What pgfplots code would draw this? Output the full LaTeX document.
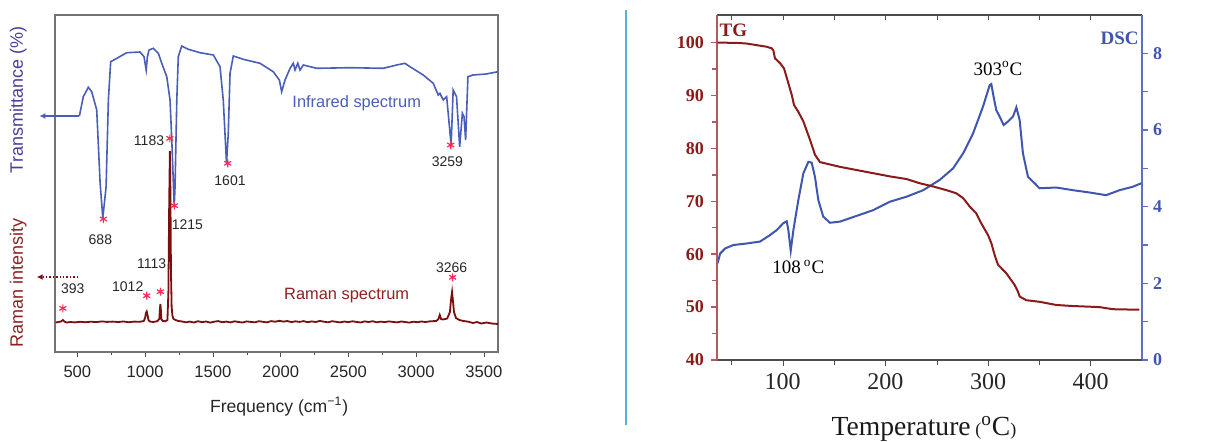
\documentclass[border=0pt]{standalone}
\usepackage{fontspec}
\setmainfont{Liberation Sans}
\newfontfamily\timesfont{Liberation Serif}
\usepackage{pgfplots}
\pgfplotsset{compat=1.18}
\usetikzlibrary{arrows.meta}
\definecolor{irblue}{HTML}{4A5DB8}
\definecolor{ramred}{HTML}{7A0F12}
\definecolor{transcol}{HTML}{4A3F9A}
\definecolor{ramlab}{HTML}{8B2323}
\definecolor{starred}{HTML}{FF2A55}
\definecolor{tgred}{HTML}{8B1A1A}
\definecolor{tgaxis}{HTML}{B05A5A}
\definecolor{dscblue}{HTML}{3F56B0}
\definecolor{dscaxis}{HTML}{5F6FC8}
\definecolor{divider}{HTML}{5AAEE0}
\begin{document}
\begin{tikzpicture}[x=1pt,y=1pt]
\path (0,0) rectangle (604,220.5);
% ================= LEFT PANEL =================
\begin{axis}[at={(27.5pt,44.5pt)}, anchor=south west, scale only axis,
  width=221.5pt, height=168.5pt,
  xmin=335, xmax=3605, ymin=0, ymax=337, clip=false,
  axis line style={black!55, line width=0.6pt},
  xtick={500,1000,...,3500}, minor xtick={750,1250,...,3250}, ytick=\empty,
  xtick pos=bottom, tick align=outside, major tick length=2.5pt, minor tick length=1.5pt,
  tick style={black!70},
  /pgf/number format/assume math mode=true,
  /pgf/number format/1000 sep={},
  xticklabel style={font=\fontsize{8.3}{9}\selectfont, text=black!85, yshift=-1pt},
  ]
% Infrared spectrum
\addplot[irblue, line width=0.8pt, mark=none] coordinates {
(515,236) (544,255.3) (581,264.7) (606,260.3) (643,242) (668,169) (688,134) (712,165)
(729,252) (746,290.3) (778,292.7) (865,299.3) (963,300) (992,295.3) (1008,282) (1017,295.3)
(1029,302) (1061,303.7) (1098,298.7) (1123,288.7) (1160,275.3) (1184,252) (1197,212)
(1215,145.3) (1221,165.3) (1234,252) (1245,295.3) (1270,306) (1319,302.7) (1405,299.3)
(1504,297) (1553,285.3) (1577,252) (1601,188.7) (1614,218.7) (1627,278.7) (1651,296)
(1725,292.7) (1848,288.7) (1946,280.3) (1991,272) (2008,260.3) (2033,272) (2070,283.7)
(2094,288.7) (2107,282) (2127,288.7) (2144,282) (2168,287) (2267,283.7) (2513,284.3)
(2758,283.7) (2857,287) (2918,288.7) (2955,285.3) (3053,277) (3127,268.7) (3164,257)
(3176,258.7) (3201,252) (3226,255.3) (3259,207) (3274,262) (3299,255.3) (3322,205.3)
(3342,238.7) (3354,235.3) (3366,212) (3383,275.3) (3420,277) (3518,278) (3605,280.3)
};
% Raman spectrum
\addplot[ramred, line width=0.9pt, mark=none] coordinates {
(340,29.5) (360,30) (380,30.5) (393,32) (405,30.5) (420,29.5) (450,30) (480,29.6) (520,30.2)
(560,29.8) (600,30.3) (640,29.9) (680,30.6) (720,30.1) (760,30.4) (800,30) (840,30.5)
(880,29.8) (920,30.4) (960,30.2) (990,31) (1000,34) (1006,39) (1012,40.5) (1018,37)
(1025,32) (1035,30.5) (1060,30) (1090,30.8) (1105,33) (1110,44) (1113,48) (1116,43)
(1120,33) (1130,31) (1150,30.8) (1165,32) (1172,60) (1178,150) (1183,201) (1187,160)
(1191,80) (1196,45) (1202,36) (1210,33) (1225,32) (1245,31)
(1270,30.6) (1300,29.7) (1330,30.4) (1360,29.5) (1390,30.8) (1420,29.9) (1450,30.5)
(1480,29.4) (1510,30.3) (1540,30.9) (1570,29.8) (1600,30.4) (1630,29.6) (1660,30.7)
(1690,30.0) (1720,29.5) (1750,30.6) (1780,30.1) (1810,29.7) (1840,30.8) (1870,30.2)
(1900,29.6) (1930,30.9) (1960,30.3) (1990,31.2) (2020,30.4) (2050,31.0) (2080,29.9)
(2110,30.7) (2140,30.1) (2170,30.9) (2200,29.8) (2230,30.6) (2260,30.0) (2290,31.1)
(2320,30.3) (2350,29.7) (2380,30.8) (2410,30.2) (2440,29.6) (2470,30.5) (2500,29.9)
(2530,30.7) (2560,30.1) (2590,29.5) (2620,30.6) (2650,30.0) (2680,30.8) (2710,29.7)
(2740,30.4) (2770,29.9) (2800,30.6) (2830,30.1) (2860,29.6) (2890,30.5) (2920,30.0)
(2950,29.4) (2980,30.3) (3010,29.8) (3040,30.5) (3070,30.0) (3100,30.6) (3130,30.9)
(3150,31) (3165,33) (3175,37) (3185,33) (3200,32.5) (3230,33.5) (3250,40) (3258,52)
(3266,60) (3272,52) (3280,40) (3295,34) (3320,32) (3350,31) (3380,30.5) (3420,29)
(3450,30) (3480,28.5) (3520,29.5) (3560,28.5) (3605,28)
};
% peak markers
\addplot[only marks, mark=asterisk, mark size=2pt, starred, line width=0.6pt] coordinates {
(393,43.7) (1012,56.3) (1113,60.3) (1183,213.7) (1216,146.3) (692,133) (1610,188.7)
(3256,207) (3270,74.7)
};
% arrows pointing to y-axes
\draw[irblue, line width=0.8pt, -{Latex[length=3pt,width=3pt]}] (axis cs:515,236) -- (axis cs:220,236);
\draw[ramred, line width=0.7pt, densely dotted, -{Latex[length=3pt,width=3pt]}] (axis cs:505,75) -- (axis cs:200,75);
% peak labels
\begin{scope}[every node/.style={font=\fontsize{7}{8}\selectfont, text=black!85}]
\node at (axis cs:670,112) {688};
\node at (axis cs:1312,127) {1215};
\node at (axis cs:1627,171) {1601};
\node at (axis cs:3231,190.3) {3259};
\node at (axis cs:1029,211.3) {1183};
\node at (axis cs:1049,88.7) {1113};
\node at (axis cs:872,65.3) {1012};
\node at (axis cs:466,63.7) {393};
\node at (axis cs:3263,84.7) {3266};
\end{scope}
\node[font=\fontsize{8.2}{9}\selectfont, text=irblue] at (axis cs:2562,248.7) {Infrared spectrum};
\node[font=\fontsize{8.2}{9}\selectfont, text=ramlab] at (axis cs:2488,56) {Raman spectrum};
% axis labels
\node[rotate=90, text=transcol, font=\fontsize{9}{10}\selectfont] at (rel axis cs:-0.083,0.748) {Transmittance (\%)};
\node[rotate=90, text=ramlab, font=\fontsize{9}{10}\selectfont] at (rel axis cs:-0.083,0.206) {Raman intensity};
\node[font=\fontsize{8.8}{10}\selectfont, text=black!85] at (rel axis cs:0.506,-0.162) {Frequency (cm\textsuperscript{−1})};
\end{axis}
% divider
\draw[divider, line width=0.6pt] (313,8) -- (313,215.5);
% ================= RIGHT PANEL =================
% top spine with inward ticks
\begin{axis}[at={(358.5pt,40.5pt)}, anchor=south west, scale only axis,
  width=212.5pt, height=172.5pt,
  xmin=36, xmax=450, ymin=0, ymax=1,
  axis x line*=top, axis y line=none,
  x axis line style={black!70, line width=0.6pt},
  xtick={100,200,300,400}, minor xtick={50,150,250,350},
  xticklabels={}, tick align=inside, major tick length=2.5pt, minor tick length=2.5pt,
  tick style={black!70},
  ]
\addplot[draw=none] coordinates {(100,0.5)};
\end{axis}
% DSC axis (right)
\begin{axis}[at={(358.5pt,40.5pt)}, anchor=south west, scale only axis,
  width=212.5pt, height=172.5pt,
  xmin=36, xmax=450, ymin=0, ymax=9, clip=false,
  axis x line=none, axis y line*=right,
  y axis line style={dscaxis, line width=0.9pt},
  ytick={0,2,4,6,8}, minor ytick={1,3,5,7},
  tick align=outside, major tick length=3pt, minor tick length=3pt,
  ytick style={dscaxis, line width=0.7pt},
  /pgf/number format/assume math mode=true,
  yticklabel style={font=\timesfont\bfseries\fontsize{9}{10}\selectfont, text=dscblue, xshift=-1pt},
  ]
\addplot[dscblue, line width=1pt, mark=none] coordinates {
(36.5,2.52) (39.1,2.78) (43.9,2.91) (52,3.0) (65,3.04) (77.9,3.09) (87.7,3.26) (94.2,3.39)
(100.6,3.57) (103.9,3.62) (105.5,3.39) (107.8,2.85) (110.4,3.39) (115.2,4.17) (120.1,4.87)
(125,5.17) (128.2,5.15) (131.4,4.78) (134.7,4.17) (139.5,3.74) (146,3.58) (155.8,3.61)
(172,3.76) (188.2,3.91) (204.4,4.13) (220.6,4.26) (236.8,4.43) (253,4.7) (266,5.0)
(275.7,5.39) (285.4,5.91) (295.1,6.61) (301.6,7.17) (303.2,7.2) (305.4,6.87) (308,6.52)
(311.3,6.35) (315.2,6.13) (319.4,6.22) (324.3,6.35) (327.6,6.59) (330.8,6.26) (334,5.39)
(338.9,4.78) (345.4,4.61) (350.2,4.48) (366.5,4.5) (382.7,4.43) (398.9,4.37) (415.1,4.3)
(428.1,4.43) (441.1,4.52) (449.2,4.61)
};
\node[font=\timesfont\fontsize{9.5}{10}\selectfont] at (axis cs:115.2,2.43) {108\,\textsuperscript{o}C};
\node[font=\timesfont\fontsize{9.5}{10}\selectfont] at (axis cs:309.7,7.61) {303\textsuperscript{o}C};
\node[font=\timesfont\bfseries\fontsize{9.5}{10}\selectfont, text=dscblue] at (axis cs:428.1,8.39) {DSC};
\end{axis}
% TG axis (left) + bottom
\begin{axis}[at={(358.5pt,40.5pt)}, anchor=south west, scale only axis,
  width=212.5pt, height=172.5pt,
  xmin=36, xmax=450, ymin=40, ymax=105.2, clip=false,
  axis x line*=bottom, axis y line*=left,
  x axis line style={black!70, line width=0.6pt},
  y axis line style={tgaxis, line width=0.9pt},
  xtick={100,200,300,400}, minor xtick={50,150,250,350},
  ytick={40,50,...,100}, minor ytick={45,55,...,95},
  tick align=outside, major tick length=3pt, minor tick length=2.5pt,
  xtick style={black!70},
  ytick style={tgaxis, line width=0.7pt},
  /pgf/number format/assume math mode=true,
  xticklabel style={font=\timesfont\fontsize{12}{13}\selectfont, text=black!85},
  yticklabel style={font=\timesfont\bfseries\fontsize{9}{10}\selectfont, text=tgred},
  ]
\addplot[tgred, line width=1pt, mark=none] coordinates {
(36.5,100) (58.5,99.9) (65,99.8) (74.7,99.5) (84.4,99.2) (89.3,98.9) (90.9,98.5) (92.5,97)
(97.4,96.1) (101.3,95.1) (105.5,92.3) (108.8,90.1) (111,88.2) (115.2,86.9) (120.1,85.1)
(126.6,81.6) (131.4,78.8) (136.3,77.4) (142.8,77.1) (155.8,76.5) (172,75.9) (188.2,75.3)
(204.4,74.7) (220.6,74.2) (233.5,73.4) (246.5,72.8) (259.5,72.1) (269.2,71.5) (275.7,70.6)
(282.2,69) (288.6,67.7) (293.5,65.8) (300,63.6) (303.2,62.1) (306.5,59.8) (309.7,58)
(317.8,56.4) (325.9,54.2) (329.2,52.9) (330.8,52) (337.3,51.3) (350.2,51) (366.5,50.4)
(382.7,50.2) (408.6,50) (421.6,49.6) (447.5,49.5)
};
\node[font=\timesfont\bfseries\fontsize{9.5}{10}\selectfont, text=tgred] at (axis cs:51.9,102.4) {TG};
\node[font=\timesfont\fontsize{13.8}{15}\selectfont, text=black!90, anchor=base] at (rel axis cs:0.487,-0.22) {Temperature\,{\fontsize{9}{10}\selectfont(}\textsuperscript{o}C{\fontsize{9}{10}\selectfont)}};
\end{axis}
\pgfresetboundingbox
\path (0,0) rectangle (604,220.5);
\end{tikzpicture}
\end{document}
